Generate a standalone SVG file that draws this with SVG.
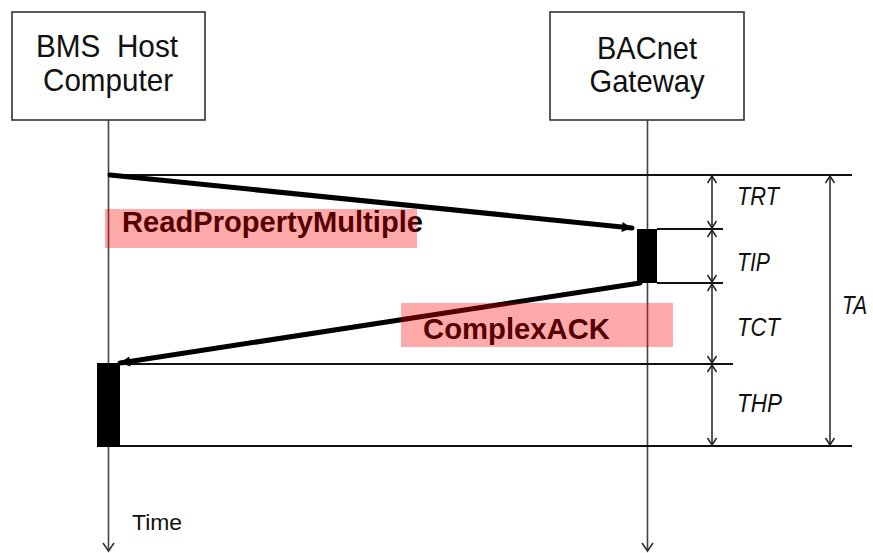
<svg xmlns="http://www.w3.org/2000/svg" width="873" height="553" viewBox="0 0 873 553">
<defs>
<marker id="vopen" markerUnits="userSpaceOnUse" markerWidth="14" markerHeight="14" viewBox="0 0 14 14" refX="12" refY="7" orient="auto">
<path d="M4,1.5 L12,7 L4,12.5" fill="none" stroke="#333" stroke-width="1.6"/>
</marker>
<marker id="vdim" markerUnits="userSpaceOnUse" markerWidth="12" markerHeight="12" viewBox="0 0 12 12" refX="11" refY="6" orient="auto-start-reverse">
<path d="M4,1.5 L11,6 L4,10.5" fill="none" stroke="#222" stroke-width="1.5"/>
</marker>
<marker id="fill" markerUnits="userSpaceOnUse" markerWidth="14" markerHeight="14" viewBox="0 0 14 14" refX="12" refY="7" orient="auto">
<path d="M2,2 L12,7 L2,12 Z" fill="#000"/>
</marker>
</defs>
<style>
.box{fill:#fff;stroke:#333;stroke-width:1.6}
.name{font-family:"Liberation Sans",Arial,sans-serif;font-size:32px;fill:#111;text-anchor:middle}
.life{stroke:#444;stroke-width:1.6;fill:none}
.hl{stroke:#111;stroke-width:2;fill:none}
.dim{stroke:#222;stroke-width:1.5;fill:none;marker-start:url(#vdim);marker-end:url(#vdim)}
.msg{stroke:#000;stroke-width:5;fill:none;stroke-linecap:round}
.act{fill:#000}
.lbl{font-family:"Liberation Sans",Arial,sans-serif;font-size:26px;font-style:italic;fill:#111}
.mlbl{font-family:"Liberation Sans",Arial,sans-serif;font-size:30px;font-weight:bold;fill:#000}
.hil{fill:#ff0000;fill-opacity:0.333}
</style>
<g id="bms">
<rect class="box" x="12" y="12" width="193" height="108"/>
<text class="name" x="107" y="57" textLength="142" lengthAdjust="spacingAndGlyphs" xml:space="preserve">BMS  Host</text>
<text class="name" x="108" y="91" textLength="130" lengthAdjust="spacingAndGlyphs">Computer</text>
</g>
<g id="gateway">
<rect class="box" x="550" y="12" width="194" height="108"/>
<text class="name" x="647" y="59" textLength="100" lengthAdjust="spacingAndGlyphs">BACnet</text>
<text class="name" x="647" y="92" textLength="115" lengthAdjust="spacingAndGlyphs">Gateway</text>
</g>
<g id="connectors">
<line class="life" x1="108.5" y1="120" x2="108.5" y2="551" marker-end="url(#vopen)"/>
<line class="life" x1="647.5" y1="120" x2="647.5" y2="551" marker-end="url(#vopen)"/>
<line class="hl" x1="108" y1="175" x2="852" y2="175"/>
<line class="hl" x1="657" y1="229" x2="723" y2="229"/>
<line class="hl" x1="657" y1="283" x2="723" y2="283"/>
<line class="hl" x1="120" y1="364" x2="733" y2="364"/>
<line class="hl" x1="120" y1="446" x2="852" y2="446"/>
<line class="dim" x1="712" y1="176" x2="712" y2="228"/>
<line class="dim" x1="712" y1="230" x2="712" y2="282"/>
<line class="dim" x1="712" y1="284" x2="712" y2="363"/>
<line class="dim" x1="712" y1="365" x2="712" y2="445"/>
<line class="dim" x1="830" y1="176" x2="830" y2="445"/>
<line class="msg" x1="110" y1="175" x2="632" y2="228" marker-end="url(#fill)"/>
<line class="msg" x1="640" y1="283" x2="120" y2="363" marker-end="url(#fill)"/>
</g>
<g id="activations">
<rect class="act" x="637" y="229" width="20" height="54"/>
<rect class="act" x="97" y="363" width="23" height="84"/>
</g>
<g id="labels">
<text class="lbl" x="737" y="205" textLength="42" lengthAdjust="spacingAndGlyphs">TRT</text>
<text class="lbl" x="737" y="271" textLength="33" lengthAdjust="spacingAndGlyphs">TIP</text>
<text class="lbl" x="737" y="336" textLength="43" lengthAdjust="spacingAndGlyphs">TCT</text>
<text class="lbl" x="737" y="412" textLength="45" lengthAdjust="spacingAndGlyphs">THP</text>
<text class="lbl" x="842" y="314" textLength="25" lengthAdjust="spacingAndGlyphs">TA</text>
<text x="132" y="530" font-family="Liberation Sans, Arial, sans-serif" font-size="22" fill="#111" textLength="50" lengthAdjust="spacingAndGlyphs">Time</text>
</g>
<g id="msg-labels">
<text class="mlbl" x="122" y="232" textLength="301" lengthAdjust="spacingAndGlyphs">ReadPropertyMultiple</text>
<rect class="hil" x="105" y="209" width="312" height="39"/>
<text class="mlbl" x="423" y="339" textLength="187" lengthAdjust="spacingAndGlyphs">ComplexACK</text>
<rect class="hil" x="401" y="303" width="272" height="44"/>
</g>
</svg>
